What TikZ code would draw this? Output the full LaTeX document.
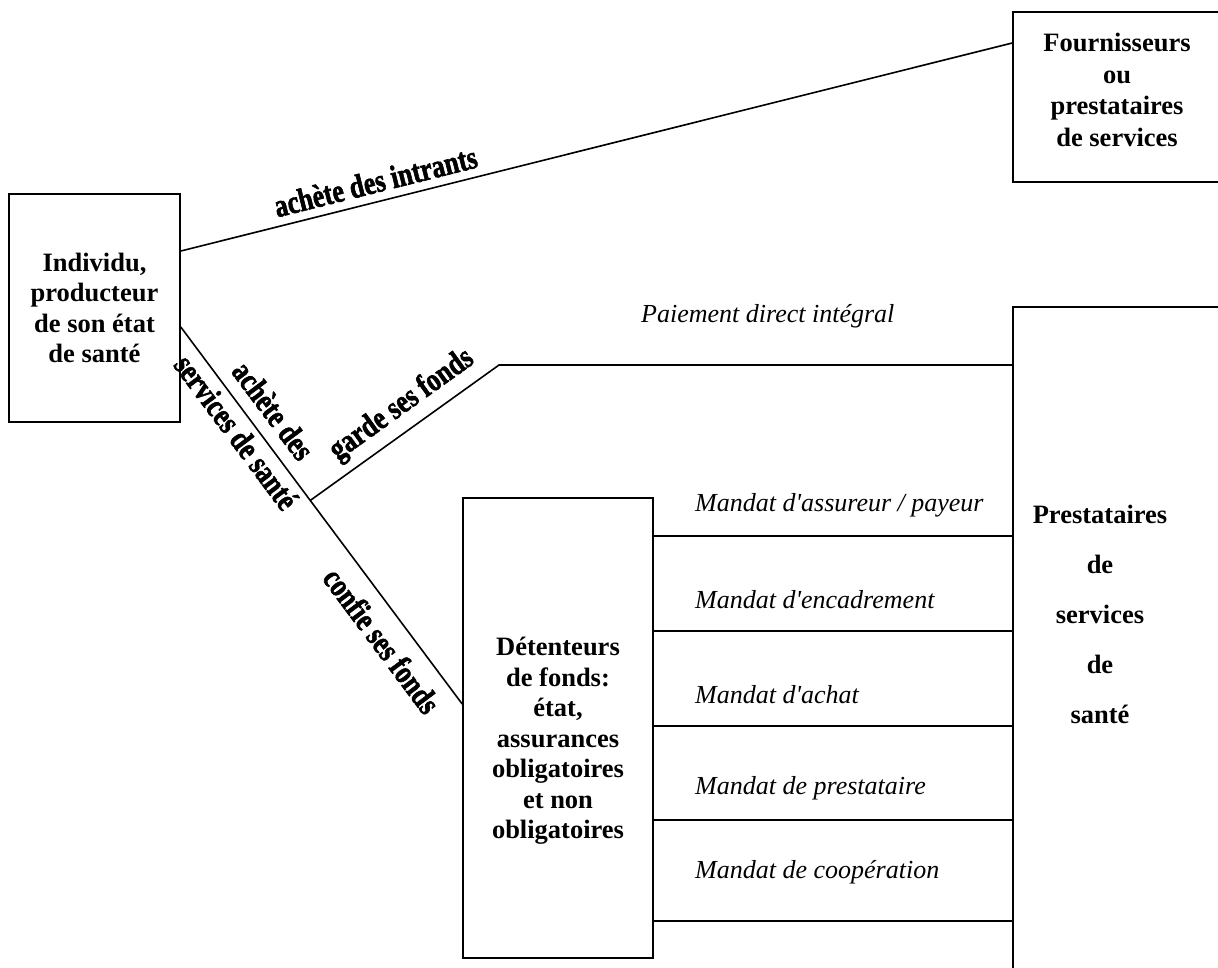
\documentclass[tikz,border=0pt]{standalone}
\usepackage{fontspec}
\setmainfont{Liberation Serif}
\newfontfamily\heavyfont{Liberation Serif}[BoldFeatures={FakeBold=2}]
\usetikzlibrary{calc}

\tikzset{
  box/.style={draw, line width=1.6pt, rectangle, inner sep=0pt},
  boxtext/.style={align=center, inner sep=0pt,
    font=\fontsize{26.5}{30.5}\selectfont\bfseries},
  mandate/.style={anchor=west, inner sep=0pt,
    font=\fontsize{26}{30}\selectfont\itshape},
  link/.style={line width=1.6pt},
  thinlink/.style={line width=1.3pt},
  flowlabel/.style={sloped, inner sep=0pt,
    font=\fontsize{26}{30}\selectfont\heavyfont\bfseries},
}
\newcommand{\tall}[1]{\scalebox{1}[1.25]{#1}}
\newcommand{\apos}{\textquotesingle}

\begin{document}
\begin{tikzpicture}[x=1pt,y=-1pt]
\useasboundingbox (0,0) rectangle (1218,967);

% boxes
\node[box, boxtext, minimum width=171pt, minimum height=228pt] (indiv) at (94.5,308)
  {Individu,\\producteur\\de son état\\de santé};
\node[box, minimum width=214pt, minimum height=170pt] (fourn) at (1120,97) {};
\node[boxtext, font=\fontsize{26.5}{31.5}\selectfont\bfseries] (fourntext) at (1117,90)
  {Fournisseurs\\ou\\prestataires\\de services};
\node[box, minimum width=214pt, minimum height=666pt] (prest) at (1120,640) {};
\node[boxtext, font=\fontsize{26.5}{50}\selectfont\bfseries] (presttext) at (1100,614)
  {Prestataires\\de\\services\\de\\santé};
\node[box, minimum width=190pt, minimum height=460pt] (det) at (558,728) {};
\node[boxtext] (dettext) at (558,741)
  {Détenteurs\\de fonds:\\état,\\assurances\\obligatoires\\et non\\obligatoires};

% purchase of inputs
\draw[link] (indiv.east |- 0,251)
  -- node[flowlabel, above=8pt, pos=0.24] {\tall{achète des intrants}}
  (fourn.west |- 0,43);

% health services and entrusted funds
\draw[link] (indiv.east |- 0,327)
  -- node[flowlabel, above=12pt, pos=0.26] {\tall{achète des}}
     node[flowlabel, below=6pt, pos=0.25] {\tall{services de santé}}
     coordinate[pos=0.46] (gstart)
     node[flowlabel, below=14pt, pos=0.79] {\tall{confie ses fonds}}
  (det.west |- 0,704);

% kept funds, direct payment
\coordinate (gbend) at (499,365);
\draw[link] (gstart)
  -- node[flowlabel, above=8pt, pos=0.56] {\tall{garde ses fonds}} (gbend)
  -- (prest.west |- gbend);
\node[mandate] (paiement) at (641,316) {Paiement direct intégral};

% mandates
\foreach \y/\t/\n in {505/{Mandat d\apos assureur / payeur}/m1,
                      600/{Mandat d\apos encadrement}/m2,
                      695/{Mandat d\apos achat}/m3,
                      788/{Mandat de prestataire}/m4,
                      872/{Mandat de coopération}/m5}
  \node[mandate] (\n) at (695,\y) {\t};
\foreach \y in {536,631,726,820,921}
  \draw[thinlink] (det.east |- 0,\y) -- (prest.west |- 0,\y);
\end{tikzpicture}
\end{document}
